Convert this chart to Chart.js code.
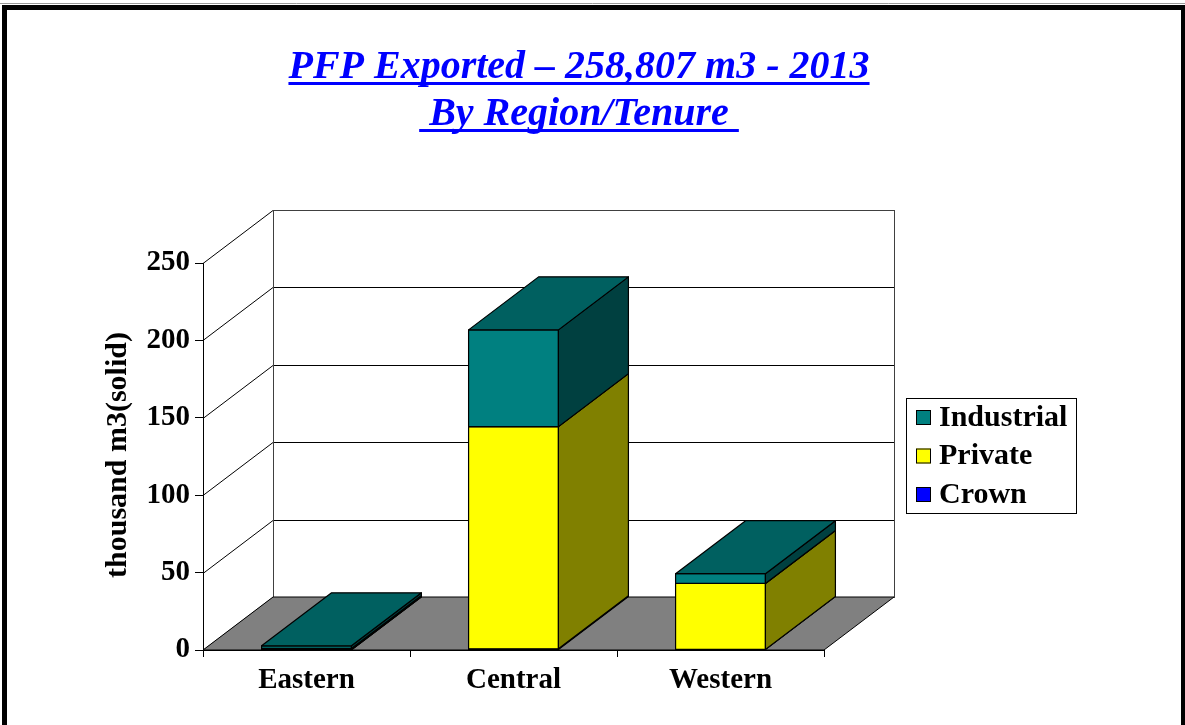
<!DOCTYPE html>
<html>
<head>
<meta charset="utf-8">
<script src="https://cdn.jsdelivr.net/npm/chart.js@4/dist/chart.umd.min.js"></script>
<style>
  html, body { margin: 0; padding: 0; background: #fff; }
  canvas { display: block; }
</style>
</head>
<body>
<canvas id="chart" width="1185" height="725"></canvas>
<script>
// ---------------- data ----------------
const regions = ['Eastern', 'Central', 'Western'];
const seriesNames = ['Crown', 'Private', 'Industrial'];
const crownVol = [0.2, 0.8, 0.4];
const privateVol = [0.8, 143.5, 42.6];
const industrialVol = [1.7, 62.5, 6.3];
const yTicks = [0, 50, 100, 150, 200, 250];

const titleLines = ['PFP Exported \u2013 258,807 m3 - 2013', ' By Region/Tenure '];
const yTitle = 'thousand m3(solid)';

// face colours: front / top / side
const colors = {
  Crown:      { front: '#0000FF', top: '#0000C0', side: '#000080' },
  Private:    { front: '#FFFF00', top: '#C0C000', side: '#808000' },
  Industrial: { front: '#008080', top: '#006060', side: '#004040' }
};

const SERIF = '"Liberation Serif", "Times New Roman", serif';
const DX = 70, DY = -53; // depth of the 3d box

// ---------------- 3d plugin ----------------
const walls3d = {
  id: 'walls3d',
  beforeDraw(chart) {
    const ctx = chart.ctx;
    const { left: L, right: R, top: T, bottom: B } = chart.chartArea;
    const y = chart.scales.y;
    ctx.save();
    // outer frame
    ctx.fillStyle = '#fff';
    ctx.fillRect(0, 0, chart.width, chart.height);
    ctx.strokeStyle = '#999';
    ctx.lineWidth = 1;
    ctx.beginPath(); ctx.moveTo(0, 3.5); ctx.lineTo(chart.width, 3.5); ctx.stroke();
    ctx.strokeStyle = '#000';
    ctx.lineWidth = 5;
    ctx.strokeRect(4.5, 7.5, chart.width - 6, chart.height + 20);

    ctx.lineWidth = 1;
    // left wall
    ctx.fillStyle = '#fff';
    ctx.beginPath();
    ctx.moveTo(L, T); ctx.lineTo(L + DX, T + DY); ctx.lineTo(L + DX, B + DY); ctx.lineTo(L, B);
    ctx.closePath(); ctx.fill();
    // back wall
    ctx.fillRect(L + DX, T + DY, R - L, B - T);
    // grid lines: diagonals on left wall + horizontals on back wall
    ctx.strokeStyle = '#000';
    yTicks.forEach(v => {
      const py = Math.round(y.getPixelForValue(v)) + 0.5;
      ctx.beginPath();
      ctx.moveTo(L, py); ctx.lineTo(L + DX, py + DY); ctx.lineTo(R + DX, py + DY);
      ctx.stroke();
    });
    ctx.strokeStyle = '#404040';
    ctx.strokeRect(Math.round(L + DX) + 0.5, Math.round(T + DY) + 0.5, R - L, B - T);
    // floor
    ctx.fillStyle = '#808080';
    ctx.strokeStyle = '#000';
    ctx.beginPath();
    ctx.moveTo(L, B); ctx.lineTo(R, B); ctx.lineTo(R + DX, B + DY); ctx.lineTo(L + DX, B + DY);
    ctx.closePath(); ctx.fill(); ctx.stroke();
    ctx.restore();
  },
  afterDatasetsDraw(chart) {
    const ctx = chart.ctx;
    ctx.save();
    ctx.lineWidth = 1.2;
    ctx.strokeStyle = '#000';
    ctx.lineJoin = 'round';
    regions.forEach((_, i) => {
      chart.data.datasets.forEach((ds, j) => {
        const bar = chart.getDatasetMeta(j).data[i];
        const c = colors[ds.label];
        const x0 = bar.x - bar.width / 2, x1 = bar.x + bar.width / 2;
        const yt = bar.y, yb = bar.base;
        // front
        ctx.fillStyle = c.front;
        ctx.beginPath();
        ctx.rect(x0, yt, x1 - x0, yb - yt);
        ctx.fill(); ctx.stroke();
        // side
        ctx.fillStyle = c.side;
        ctx.beginPath();
        ctx.moveTo(x1, yb); ctx.lineTo(x1 + DX, yb + DY); ctx.lineTo(x1 + DX, yt + DY); ctx.lineTo(x1, yt);
        ctx.closePath(); ctx.fill(); ctx.stroke();
        // top
        ctx.fillStyle = c.top;
        ctx.beginPath();
        ctx.moveTo(x0, yt); ctx.lineTo(x1, yt); ctx.lineTo(x1 + DX, yt + DY); ctx.lineTo(x0 + DX, yt + DY);
        ctx.closePath(); ctx.fill(); ctx.stroke();
      });
    });
    ctx.restore();
  },
  afterDraw(chart) {
    const ctx = chart.ctx;
    ctx.save();
    // title, blue bold italic underlined
    ctx.fillStyle = '#0000FF';
    ctx.font = 'italic bold 40px ' + SERIF;
    ctx.textAlign = 'left';
    ctx.textBaseline = 'alphabetic';
    const cx = 579;
    const baselines = [78, 125];
    titleLines.forEach((t, k) => {
      const w = ctx.measureText(t).width;
      const x = cx - w / 2;
      ctx.fillText(t, x, baselines[k]);
      ctx.fillRect(x, baselines[k] + 4, w, 3);
    });
    // y axis title
    ctx.fillStyle = '#000';
    ctx.font = 'bold 30px ' + SERIF;
    ctx.translate(118, 455);
    ctx.rotate(-Math.PI / 2);
    ctx.textAlign = 'center';
    ctx.textBaseline = 'middle';
    ctx.fillText(yTitle, 0, 0);
    ctx.setTransform(1, 0, 0, 1, 0, 0);
    // legend box
    const lx = 906, ly = 398, lw = 170, lh = 115;
    ctx.strokeStyle = '#000';
    ctx.lineWidth = 1;
    ctx.strokeRect(lx + 0.5, ly + 0.5, lw, lh);
    const items = chart.data.datasets.slice().reverse();
    ctx.font = 'bold 30px ' + SERIF;
    ctx.textAlign = 'left';
    ctx.textBaseline = 'middle';
    items.forEach((ds, k) => {
      const cy = 417 + k * 38.5;
      ctx.fillStyle = colors[ds.label].front;
      ctx.fillRect(916, cy - 7, 15, 15);
      ctx.strokeRect(916.5, cy - 6.5, 14, 14);
      ctx.fillStyle = '#000';
      ctx.fillText(ds.label, 939, cy + 1);
    });
    ctx.restore();
  }
};

// ---------------- chart ----------------
const seriesData = { Crown: crownVol, Private: privateVol, Industrial: industrialVol };
const tickFont = { family: SERIF, size: 29, weight: 'bold' };

new Chart(document.getElementById('chart'), {
  type: 'bar',
  data: {
    labels: regions,
    datasets: seriesNames.map(name => ({
      label: name,
      data: seriesData[name],
      backgroundColor: colors[name].front,
      borderColor: '#000',
      borderWidth: 1,
      categoryPercentage: 1,
      barPercentage: 0.434
    }))
  },
  options: {
    responsive: false,
    animation: false,
    layout: { padding: { top: 263, right: 361, bottom: 0, left: 0 } },
    plugins: {
      legend: { display: false },
      title: { display: false },
      tooltip: { enabled: false }
    },
    scales: {
      x: {
        stacked: true,
        grid: { offset: true, drawOnChartArea: false, drawTicks: true, tickLength: 7, color: '#000' },
        border: { display: true, color: '#000' },
        ticks: { font: tickFont, color: '#000', padding: 6, maxRotation: 0 },
        afterFit: s => { s.height = 75; }
      },
      y: {
        stacked: true,
        min: 0,
        max: 250,
        grid: { drawOnChartArea: false, drawTicks: true, tickLength: 8, color: '#000' },
        border: { display: true, color: '#000' },
        ticks: { stepSize: 50, font: tickFont, color: '#000', padding: 5 },
        afterFit: s => { s.width = 203; }
      }
    }
  },
  plugins: [walls3d]
});
</script>
</body>
</html>
